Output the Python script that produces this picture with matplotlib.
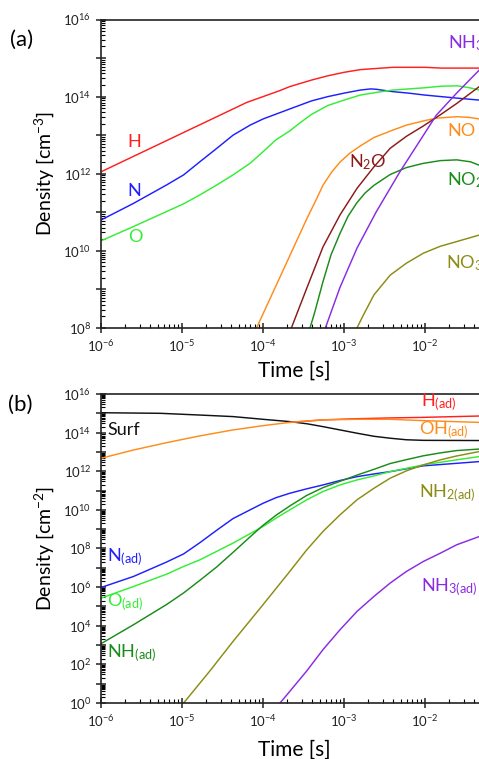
import numpy as np
import matplotlib
matplotlib.use("Agg")
import matplotlib.pyplot as plt
from matplotlib.ticker import LogLocator, FixedLocator, NullFormatter

plt.rcParams['font.family'] = ['Lato', 'DejaVu Sans']
plt.rcParams['mathtext.fontset'] = 'custom'
plt.rcParams['mathtext.rm'] = 'Lato'
plt.rcParams['mathtext.it'] = 'Lato:italic'

# --- panel (a): gas phase, log10(time) / log10(density) ---
h_t = [-6, -5.5, -5, -4.5, -4.2, -4, -3.8, -3.67, -3.4, -3.2, -3, -2.8, -2.6, -2.4, -2.0, -1.8, -1]
h_n = [12.05, 12.55, 13.05, 13.55, 13.85, 14.0, 14.15, 14.26, 14.43, 14.54, 14.63, 14.7, 14.73, 14.76, 14.76, 14.74, 14.74]

n_t = [-6, -5.6, -5.19, -4.98, -4.78, -4.57, -4.37, -4.16, -4, -3.67, -3.4, -3.2, -3, -2.8, -2.67, -2.6,
       -2.4, -2.2, -2.0, -1.8, -1.6, -1.33, -1]
n_n = [10.8, 11.23, 11.71, 11.97, 12.31, 12.66, 13.0, 13.26, 13.42, 13.68, 13.89, 14.0, 14.09, 14.17, 14.2, 14.19,
       14.13, 14.09, 14.04, 14.0, 13.96, 13.91, 13.86]

o_t = [-6, -5.6, -5.19, -4.98, -4.78, -4.57, -4.37, -4.16, -4, -3.84, -3.67, -3.55, -3.4, -3.2, -3, -2.8, -2.6,
       -2.4, -2.2, -2.0, -1.8, -1.6, -1.45, -1.33, -1]
o_n = [10.26, 10.63, 11.02, 11.22, 11.45, 11.71, 11.97, 12.27, 12.57, 12.88, 13.11, 13.31, 13.54, 13.77, 13.91,
       14.04, 14.11, 14.17, 14.2, 14.23, 14.27, 14.28, 14.23, 14.17, 14.05]

no_t = [-4.08, -3.9, -3.67, -3.46, -3.35, -3.26, -3.15, -3.05, -2.93, -2.8, -2.63, -2.4, -2.23,
        -2.0, -1.86, -1.61, -1.45, -1.33, -1]
no_n = [8.0, 8.82, 9.87, 10.83, 11.3, 11.7, 12.05, 12.3, 12.53, 12.72, 12.94, 13.13, 13.26,
        13.38, 13.44, 13.48, 13.46, 13.42, 13.3]

n2o_t = [-3.65, -3.46, -3.26, -3.05, -2.84, -2.63, -2.43, -2.23, -2.02, -1.81, -1.61, -1.33, -1]
n2o_n = [8.0, 9.03, 10.1, 10.93, 11.62, 12.18, 12.66, 12.97, 13.24, 13.53, 13.82, 14.26, 14.8]

no2_t = [-3.42, -3.36, -3.26, -3.16, -3.05, -2.95, -2.84, -2.74, -2.63, -2.43, -2.23, -2.02, -1.81, -1.61,
         -1.44, -1.33, -1]
no2_n = [8.0, 8.42, 9.2, 9.9, 10.45, 10.9, 11.25, 11.5, 11.7, 11.98, 12.16, 12.27, 12.34, 12.36,
         12.31, 12.22, 11.95]

nh3_t = [-3.23, -3.05, -2.84, -2.6, -2.31, -1.86, -1.61, -1.33, -1]
nh3_n = [8.0, 9.05, 10.07, 11.02, 12.05, 13.52, 14.09, 14.69, 15.35]

no3_t = [-2.84, -2.76, -2.63, -2.43, -2.23, -2.02, -1.81, -1.61, -1.33, -1]
no3_n = [8.0, 8.34, 8.86, 9.37, 9.68, 9.94, 10.12, 10.24, 10.41, 10.55]

# --- panel (b): surface species ---
surf_t = [-6, -5.27, -4.78, -4.37, -4.0, -3.67, -3.46, -3.26, -3.05, -2.84, -2.63, -2.43, -2.23, -2.02, -1.33, -1]
surf_n = [15.03, 15.0, 14.91, 14.83, 14.69, 14.57, 14.46, 14.31, 14.14, 13.97, 13.81, 13.71, 13.63, 13.6, 13.59, 13.59]

ohad_t = [-6, -5.6, -5.19, -4.98, -4.78, -4.37, -4.0, -3.67, -3.46, -3.26, -2.84, -2.43, -2.02, -1.33, -1]
ohad_n = [12.67, 13.1, 13.48, 13.66, 13.83, 14.14, 14.36, 14.53, 14.6, 14.66, 14.69, 14.69, 14.62, 14.53, 14.48]

had_t = [-3.67, -3.26, -2.84, -2.43, -2.02, -1.33, -1]
had_n = [14.53, 14.66, 14.72, 14.76, 14.79, 14.86, 14.89]

nad_t = [-6, -5.6, -5.19, -4.98, -4.78, -4.57, -4.37, -4.16, -4, -3.84, -3.67, -3.46, -3.26, -3.05, -2.84,
         -2.63, -2.43, -2.02, -1.61, -1.33, -1]
nad_n = [5.98, 6.55, 7.3, 7.72, 8.3, 8.95, 9.55, 10.0, 10.34, 10.63, 10.86, 11.09, 11.29, 11.52, 11.72,
         11.86, 11.98, 12.28, 12.41, 12.5, 12.58]

oad_t = [-6, -5.6, -5.19, -4.98, -4.78, -4.37, -4.0, -3.84, -3.67, -3.46, -3.26, -3.05, -2.84, -2.63, -2.43,
         -2.02, -1.61, -1.33, -1]
oad_n = [5.43, 6.03, 6.67, 7.07, 7.41, 8.28, 9.14, 9.57, 10.0, 10.52, 10.95, 11.29, 11.55, 11.76, 11.98,
         12.33, 12.59, 12.76, 12.9]

nhad_t = [-6, -5.6, -5.19, -4.98, -4.78, -4.57, -4.37, -4.16, -4.0, -3.83, -3.67, -3.46, -3.26, -3.05, -2.97,
          -2.84, -2.63, -2.43, -2.23, -2.02, -1.81, -1.61, -1.33, -1]
nhad_n = [3.07, 4.05, 5.1, 5.7, 6.35, 7.05, 7.8, 8.6, 9.2, 9.75, 10.2, 10.75, 11.15, 11.48, 11.6,
          11.8, 12.1, 12.4, 12.6, 12.8, 12.95, 13.07, 13.15, 13.15]

nh2ad_t = [-4.98, -4.65, -4.37, -4.0, -3.67, -3.46, -3.26, -3.05, -2.84, -2.63, -2.43, -2.23, -2.02, -1.81,
           -1.61, -1.33, -1]
nh2ad_n = [0.0, 1.69, 3.19, 5.09, 6.81, 7.93, 8.88, 9.74, 10.52, 11.12, 11.64, 12.02, 12.33, 12.59,
           12.79, 13.02, 13.2]

nh3ad_t = [-3.79, -3.67, -3.46, -3.26, -3.05, -2.84, -2.63, -2.43, -2.23, -2.02, -1.81, -1.61, -1.33, -1]
nh3ad_n = [0.0, 0.6, 1.66, 2.76, 3.79, 4.74, 5.52, 6.21, 6.81, 7.33, 7.76, 8.19, 8.62, 9.1]

RED = '#ff1f1f'
BLUE = '#1f1fff'
LGREEN = '#33ee33'
ORANGE = '#ff8c1a'
DRED = '#8b1a1a'
DGREEN = '#1a8c1a'
OLIVE = '#8c8c14'
VIOLET = '#8a2be2'


def p(x):
    return 10.0 ** np.asarray(x)


def style_axes(ax, ymin, ymax, label_step):
    ax.set_xscale('log')
    ax.set_yscale('log')
    ax.set_xlim(1e-6, 1e-1)
    ax.set_ylim(10.0 ** ymin, 10.0 ** ymax)
    ax.xaxis.set_major_locator(FixedLocator(p(np.arange(-6, -1))))
    ax.xaxis.set_minor_locator(LogLocator(base=10, subs=np.arange(2, 10), numticks=20))
    ax.xaxis.set_minor_formatter(NullFormatter())
    ax.yaxis.set_major_locator(FixedLocator(p(np.arange(ymin, ymax + 1))))
    ax.yaxis.set_major_formatter(plt.FuncFormatter(
        lambda v, pos: r'10$^{%d}$' % round(np.log10(v)) if round(np.log10(v)) % label_step == 0 else ''))
    ax.yaxis.set_minor_locator(LogLocator(base=10, subs=np.arange(2, 10), numticks=40))
    ax.yaxis.set_minor_formatter(NullFormatter())
    ax.tick_params(which='major', direction='inout', length=7, width=1.1, labelsize=9.5, colors='#222222')
    ax.tick_params(which='minor', direction='in', length=3, width=0.8)
    for s in ax.spines.values():
        s.set_linewidth(1.2)
        s.set_color('#222222')


fig = plt.figure(figsize=(4.79, 7.59), dpi=100)
lw = 1.05

# panel (a)
ax1 = fig.add_axes([0.2109, 0.5679, 0.8455, 0.4064])
ax1.plot(p(h_t), p(h_n), color=RED, lw=lw)
ax1.plot(p(n_t), p(n_n), color=BLUE, lw=lw)
ax1.plot(p(o_t), p(o_n), color=LGREEN, lw=lw)
ax1.plot(p(no_t), p(no_n), color=ORANGE, lw=lw)
ax1.plot(p(n2o_t), p(n2o_n), color=DRED, lw=lw)
ax1.plot(p(no2_t), p(no2_n), color=DGREEN, lw=lw)
ax1.plot(p(nh3_t), p(nh3_n), color=VIOLET, lw=lw)
ax1.plot(p(no3_t), p(no3_n), color=OLIVE, lw=lw)
style_axes(ax1, 8, 16, 2)
ax1.set_ylabel(r'Density [cm$^{-3}$]', fontsize=14, labelpad=5)
ax1.set_xlabel('Time [s]', fontsize=15)
ax1.xaxis.set_label_coords(0.477, -0.105)

lab = dict(fontsize=13, transform=fig.transFigure, va='center', ha='left')
fig.text(127 / 479, 1 - 142 / 759, 'H', color=RED, **lab)
fig.text(127 / 479, 1 - 191 / 759, 'N', color=BLUE, **lab)
fig.text(128 / 479, 1 - 237 / 759, 'O', color=LGREEN, **lab)
fig.text(349 / 479, 1 - 162 / 759, r'N$_2$O', color=DRED, **lab)
fig.text(448 / 479, 1 - 43 / 759, r'NH$_3$', color=VIOLET, **lab)
fig.text(447 / 479, 1 - 131 / 759, 'NO', color=ORANGE, **lab)
fig.text(447 / 479, 1 - 180 / 759, r'NO$_2$', color=DGREEN, **lab)
fig.text(446 / 479, 1 - 263 / 759, r'NO$_3$', color=OLIVE, **lab)
fig.text(10 / 479, 1 - 40 / 759, '(a)', fontsize=16, va='center', ha='left')

# panel (b)
ax2 = fig.add_axes([0.2109, 0.0738, 0.8455, 0.4071])
ax2.plot(p(surf_t), p(surf_n), color='#111111', lw=lw)
ax2.plot(p(had_t), p(had_n), color=RED, lw=lw)
ax2.plot(p(ohad_t), p(ohad_n), color=ORANGE, lw=lw)
ax2.plot(p(nad_t), p(nad_n), color=BLUE, lw=lw)
ax2.plot(p(oad_t), p(oad_n), color=LGREEN, lw=lw)
ax2.plot(p(nhad_t), p(nhad_n), color=DGREEN, lw=lw)
ax2.plot(p(nh2ad_t), p(nh2ad_n), color=OLIVE, lw=lw)
ax2.plot(p(nh3ad_t), p(nh3ad_n), color=VIOLET, lw=lw)
style_axes(ax2, 0, 16, 2)
ax2.set_ylabel(r'Density [cm$^{-2}$]', fontsize=14, labelpad=5)
ax2.set_xlabel('Time [s]', fontsize=15)
ax2.xaxis.set_label_coords(0.477, -0.118)

fig.text(107 / 479, 1 - 430 / 759, 'Surf', color='#111111', **lab)
fig.text(107 / 479, 1 - 557 / 759, r'N$_\mathrm{(ad)}$', color=BLUE, **lab)
fig.text(107 / 479, 1 - 602 / 759, r'O$_\mathrm{(ad)}$', color=LGREEN, **lab)
fig.text(107 / 479, 1 - 653 / 759, r'NH$_\mathrm{(ad)}$', color=DGREEN, **lab)
fig.text(421 / 479, 1 - 402 / 759, r'H$_\mathrm{(ad)}$', color=RED, **lab)
fig.text(419 / 479, 1 - 430 / 759, r'OH$_\mathrm{(ad)}$', color=ORANGE, **lab)
fig.text(419 / 479, 1 - 493 / 759, r'NH$_\mathrm{2(ad)}$', color=OLIVE, **lab)
fig.text(421 / 479, 1 - 587 / 759, r'NH$_\mathrm{3(ad)}$', color=VIOLET, **lab)
fig.text(8 / 479, 1 - 405 / 759, '(b)', fontsize=16, va='center', ha='left')

fig.savefig('out.png', dpi=100)
